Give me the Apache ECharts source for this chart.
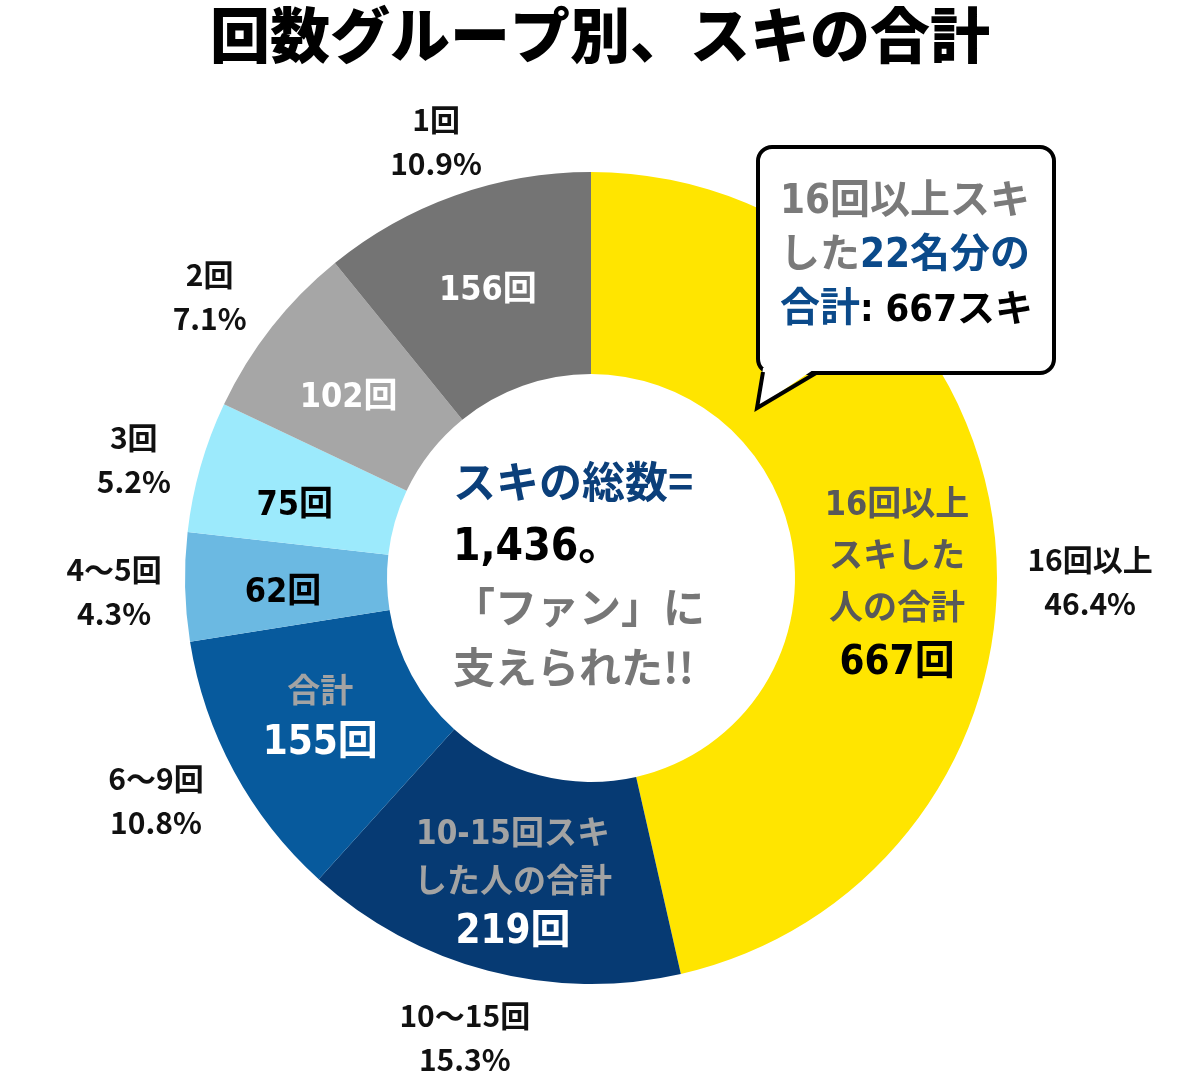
<!DOCTYPE html>
<html>
<head>
<meta charset="utf-8">
<script src="https://cdn.jsdelivr.net/npm/echarts@6/dist/echarts.min.js"></script>
<style>
  html, body { margin: 0; padding: 0; background: #fff; }
  #main { width: 1200px; height: 1077px; }
</style>
</head>
<body>
<div id="main"></div>
<script>
// 回数グループ別のスキ数
var categories = ['16回以上', '10〜15回', '6〜9回', '4〜5回', '3回', '2回', '1回'];
var skiCounts = [667, 219, 155, 62, 75, 102, 156];
var innerNotes = [
  ['16回以上', 'スキした', '人の合計'],
  ['10-15回スキ', 'した人の合計'],
  ['合計'],
  [], [], [], []
];
var centerLines = ['スキの総数=', '1,436。', '「ファン」に', '支えられた!!'];

// styles
var colors = ['#FFE500', '#063A73', '#075A9D', '#6BB9E2', '#9CEAFC', '#A6A6A6', '#747474'];
var noteStyle = ['noteDark', 'noteGray', 'noteGray', '', '', '', ''];
var numStyle = ['bigBlack', 'bigWhite', 'bigWhite', 'smallBlack', 'smallBlack', 'smallWhite', 'smallWhite'];
var innerPadding = [[84, 0, 0, 0], [18, 0, 0, 0], [0, 0, 10, 0], [16, 0, 0, 0], [26, 0, 0, 0], [20, 0, 0, 0], [6, 0, 0, 0]];
var outerPadding = [[110, 0, 0, 78], [24, 18, 0, 0], [4, 56, 0, 0], [6, 28, 0, 0], [18, 24, 0, 0], [8, 34, 0, 0], [0, 0, 0, 0]];

var NARROW = '"Liberation Sans Narrow", "DejaVu Sans Condensed", "Noto Sans CJK JP", sans-serif';
var CJK = '"Noto Sans CJK JP", "Noto Sans", sans-serif';

var chart = echarts.init(document.getElementById('main'));

var ringData = [];
var outerData = [];
for (var i in skiCounts) {
  ringData.push({
    value: skiCounts[i],
    name: categories[i],
    itemStyle: { color: colors[i] },
    label: { padding: innerPadding[i] }
  });
  outerData.push({
    value: skiCounts[i],
    name: categories[i],
    label: { padding: outerPadding[i] }
  });
}

var option = {
  backgroundColor: '#fff',
  animation: false,
  title: {
    text: '回数グループ別、スキの合計',
    left: 'center',
    top: 0,
    textStyle: { fontFamily: CJK, fontWeight: 900, fontSize: 60, color: '#000' }
  },
  series: [
    {
      // 外側のラベル用（透明）
      type: 'pie',
      silent: true,
      radius: [430, 490],
      center: [591, 578],
      startAngle: 90,
      percentPrecision: 1,
      itemStyle: { color: 'rgba(0,0,0,0)' },
      emphasis: { disabled: true },
      label: {
        position: 'inside',
        formatter: '{t|{b}}\n{t|{d}%}',
        rich: {
          t: { fontFamily: CJK, fontWeight: 'bold', fontSize: 30, lineHeight: 44, color: '#111' }
        }
      },
      labelLine: { show: false },
      data: outerData
    },
    {
      type: 'pie',
      radius: [204, 406],
      center: [591, 578],
      startAngle: 90,
      emphasis: { disabled: true },
      itemStyle: { borderWidth: 0 },
      label: {
        position: 'inside',
        formatter: function (p) {
          var i = p.dataIndex;
          var out = innerNotes[i].map(function (t) {
            return '{' + noteStyle[i] + '|' + t + '}';
          });
          out.push('{' + numStyle[i] + '|' + p.value + '回}');
          return out.join('\n');
        },
        rich: {
          noteDark: { color: '#595959', fontFamily: NARROW, fontWeight: 'bold', fontSize: 34, lineHeight: 52 },
          noteGray: { color: '#A3A3A3', fontFamily: NARROW, fontWeight: 'bold', fontSize: 33, lineHeight: 48 },
          bigBlack: { color: '#000', fontFamily: NARROW, fontWeight: 'bold', fontSize: 40, lineHeight: 56 },
          bigWhite: { color: '#fff', fontFamily: NARROW, fontWeight: 'bold', fontSize: 40, lineHeight: 52 },
          smallBlack: { color: '#000', fontFamily: NARROW, fontWeight: 'bold', fontSize: 34, lineHeight: 44 },
          smallWhite: { color: '#fff', fontFamily: NARROW, fontWeight: 'bold', fontSize: 34, lineHeight: 44 }
        }
      },
      labelLine: { show: false },
      data: ringData
    }
  ],
  graphic: [
    // 中央のテキスト
    { type: 'text', left: 453, top: 460, style: { text: centerLines[0], fill: '#0B3F7A', font: 'bold 43px ' + CJK } },
    { type: 'text', left: 453, top: 527, style: { text: centerLines[1], fill: '#000', font: 'bold 44px ' + NARROW } },
    { type: 'text', left: 453, top: 586, style: { text: centerLines[2], fill: '#777', font: 'bold 42px ' + CJK } },
    { type: 'text', left: 453, top: 646, style: { text: centerLines[3], fill: '#777', font: 'bold 42px ' + CJK } },
    // 吹き出し
    {
      type: 'rect',
      shape: { x: 758, y: 147, width: 296, height: 226, r: 14 },
      style: { fill: '#fff', stroke: '#000', lineWidth: 4 },
      z: 10
    },
    {
      type: 'polygon',
      shape: { points: [[763, 368], [757, 408], [816, 368]] },
      style: { fill: '#fff' },
      z: 11
    },
    {
      type: 'polyline',
      shape: { points: [[763, 372], [757, 408], [816, 373]] },
      style: { stroke: '#000', lineWidth: 4, fill: null },
      z: 12
    },
    {
      type: 'text',
      x: 780,
      y: 176,
      z: 13,
      style: {
        text: '{g|16回以上スキ}\n{g|した}{b|22名分の}\n{b|合計}{k|: 667スキ}',
        rich: {
          g: { fill: '#7A7A7A', fontFamily: NARROW, fontWeight: 'bold', fontSize: 40, lineHeight: 54 },
          b: { fill: '#0B4A8A', fontFamily: NARROW, fontWeight: 'bold', fontSize: 40, lineHeight: 54 },
          k: { fill: '#000', fontFamily: NARROW, fontWeight: 'bold', fontSize: 38, lineHeight: 54 }
        }
      }
    }
  ]
};

chart.setOption(option);
</script>
</body>
</html>
